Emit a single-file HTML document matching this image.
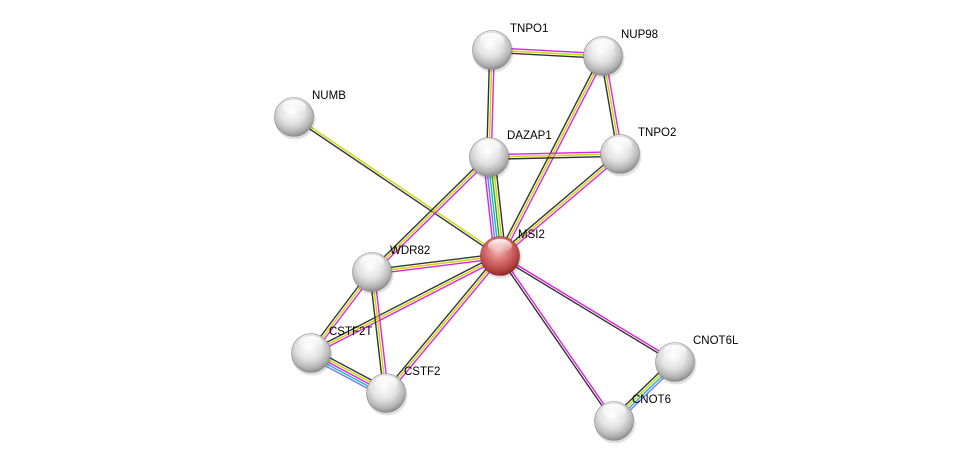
<!DOCTYPE html>
<html><head><meta charset="utf-8"><style>
html,body{margin:0;padding:0;background:#fff;width:976px;height:466px;overflow:hidden}
text{font-family:"Liberation Sans",sans-serif;font-size:11.5px;fill:#000}
</style></head><body>
<svg id="s" width="976" height="466" xmlns="http://www.w3.org/2000/svg">
<defs>
<radialGradient id="g" cx="45%" cy="35%" r="65%">
<stop offset="0" stop-color="#ffffff"/><stop offset="0.5" stop-color="#e2e2e2"/><stop offset="0.82" stop-color="#b5b5b5"/><stop offset="1" stop-color="#8c8c8c"/>
</radialGradient>
<radialGradient id="r" cx="45%" cy="35%" r="65%">
<stop offset="0" stop-color="#f3b9b9"/><stop offset="0.5" stop-color="#d46a6a"/><stop offset="0.85" stop-color="#b23e3e"/><stop offset="1" stop-color="#8a2a2a"/>
</radialGradient>
<linearGradient id="hl" x1="0" y1="0" x2="0" y2="1"><stop offset="0" stop-color="#fff" stop-opacity="0.95"/><stop offset="1" stop-color="#fff" stop-opacity="0"/></linearGradient>
</defs>
<g id="e"></g><g id="n"></g>
</svg>
<script>
var N={TNPO1:[492,50],NUP98:[603,56],NUMB:[294,117],DAZAP1:[489,157],TNPO2:[620,154],MSI2:[500,256],WDR82:[372,272],CSTF2T:[311,353],CSTF2:[386,393],CNOT6L:[675,362],CNOT6:[614,421]};
var M="#e020e0",Y="#c8d800",K="#333333",G="#22aa22",C="#20b0d0",B="#6a7cf0";
var E=[["TNPO1","NUP98",[M,Y,K]],["TNPO1","DAZAP1",[M,Y,K]],["NUP98","TNPO2",[M,Y,K]],["NUP98","MSI2",[M,Y,K]],
["NUMB","MSI2",[Y,K]],["DAZAP1","TNPO2",[M,Y,K]],["DAZAP1","MSI2",[K,Y,G,C,B,M]],["DAZAP1","WDR82",[M,Y,K]],
["TNPO2","MSI2",[M,Y,K]],["MSI2","WDR82",[M,Y,K]],["MSI2","CSTF2T",[M,Y,K]],["MSI2","CSTF2",[M,Y,K]],
["MSI2","CNOT6L",[M,K]],["MSI2","CNOT6",[M,K]],["WDR82","CSTF2T",[M,Y,K]],["WDR82","CSTF2",[M,Y,K]],
["CSTF2T","CSTF2",[K,Y,M,C,B]],["CNOT6L","CNOT6",[B,C,Y,K]]];
var ns="http://www.w3.org/2000/svg",eg=document.getElementById("e"),ng=document.getElementById("n");
E.forEach(function(d){var a=N[d[0]],b=N[d[1]],dx=b[0]-a[0],dy=b[1]-a[1],L=Math.hypot(dx,dy),px=-dy/L,py=dx/L,n=d[2].length;
d[2].forEach(function(c,i){var o=(i-(n-1)/2)*2.3;var l=document.createElementNS(ns,"line");
l.setAttribute("x1",a[0]+px*o);l.setAttribute("y1",a[1]+py*o);l.setAttribute("x2",b[0]+px*o);l.setAttribute("y2",b[1]+py*o);
l.setAttribute("stroke",c);l.setAttribute("stroke-width","1.4");eg.appendChild(l);});});
for(var k in N){var p=N[k];
var sh=document.createElementNS(ns,"circle");sh.setAttribute("cx",p[0]+1);sh.setAttribute("cy",p[1]+2);sh.setAttribute("r",20.5);sh.setAttribute("fill","#000");sh.setAttribute("opacity","0.12");ng.appendChild(sh);
var c=document.createElementNS(ns,"circle");c.setAttribute("cx",p[0]);c.setAttribute("cy",p[1]);c.setAttribute("r",19.5);c.setAttribute("fill",k=="MSI2"?"url(#r)":"url(#g)");c.setAttribute("stroke",k=="MSI2"?"#8a3030":"#888");c.setAttribute("stroke-width","0.6");ng.appendChild(c);
var h=document.createElementNS(ns,"ellipse");h.setAttribute("cx",p[0]);h.setAttribute("cy",p[1]-10);h.setAttribute("rx",12);h.setAttribute("ry",7);h.setAttribute("fill","url(#hl)");ng.appendChild(h);
var t=document.createElementNS(ns,"text");t.setAttribute("x",p[0]+18);t.setAttribute("y",p[1]-18);t.textContent=k;ng.appendChild(t);}
</script>
</body></html>
